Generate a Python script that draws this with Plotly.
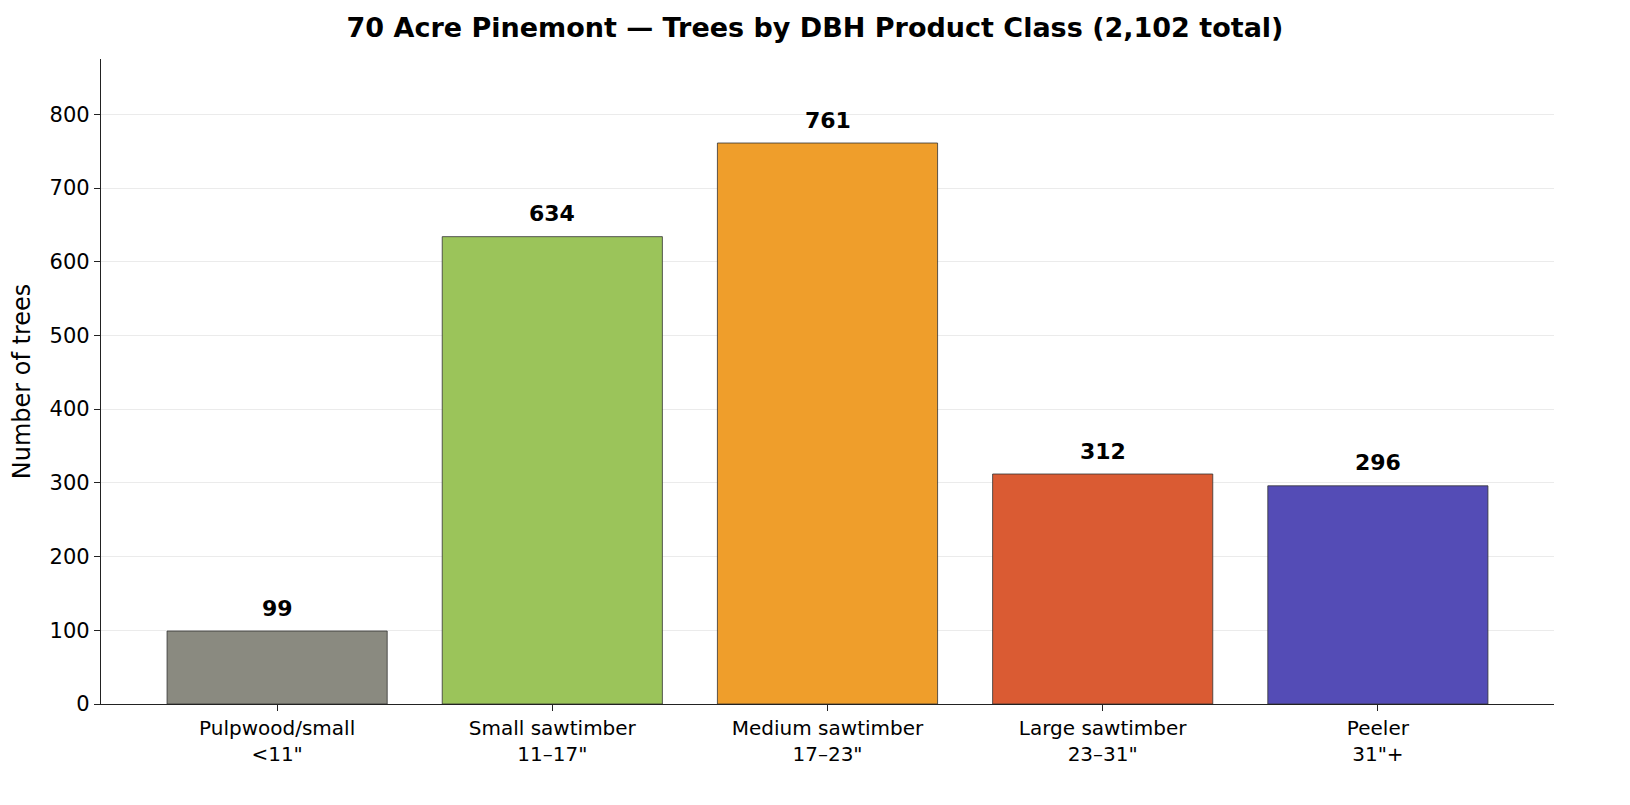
import plotly.graph_objects as go

# product classes and tree counts
classes = ["Pulpwood/small<br><11\"", "Small sawtimber<br>11–17\"", "Medium sawtimber<br>17–23\"",
           "Large sawtimber<br>23–31\"", "Peeler<br>31\"+"]
counts = [99, 634, 761, 312, 296]
colors = ["#8a8a80", "#9bc45a", "#ef9e2b", "#da5b33", "#544cb6"]

x_pos = list(range(len(classes)))

fig = go.Figure()
fig.add_trace(go.Bar(x=x_pos, y=counts, width=0.8, marker_color=colors,
                     marker_line_color="#333333", marker_line_width=0.8,
                     showlegend=False))

# value labels above bars
for xi, v in zip(x_pos, counts):
    fig.add_annotation(x=xi, y=v, text="<b>%d</b>" % v, showarrow=False,
                       yanchor="middle", yshift=23,
                       font=dict(size=22, color="black", family="DejaVu Sans"))

fig.update_layout(
    width=1630, height=805,
    paper_bgcolor="white", plot_bgcolor="white",
    margin=dict(l=101, r=76, t=59, b=101),
    font=dict(family="DejaVu Sans", color="black"),
    title=dict(text="<b>70 Acre Pinemont — Trees by DBH Product Class (2,102 total)</b>",
               x=0.5, xanchor="center", y=0.966, yanchor="middle",
               font=dict(size=27, color="black")),
    xaxis=dict(tickmode="array", tickvals=x_pos, ticktext=classes,
               range=[-0.64, 4.64], showline=True, linecolor="#222222", linewidth=1.2,
               ticks="outside", ticklen=6, tickcolor="#222222",
               tickfont=dict(size=20), showgrid=False, zeroline=False),
    yaxis=dict(range=[0, 875], tickmode="linear", dtick=100, showline=True,
               linecolor="#222222", linewidth=1.2, ticks="outside", ticklen=6,
               tickcolor="#222222", tickfont=dict(size=21),
               showgrid=True, gridcolor="#ebebeb", gridwidth=1, zeroline=False,
               title=dict(text="Number of trees", font=dict(size=24), standoff=12)),
    bargap=0.2,
)

fig.write_html("out.html", config={"displayModeBar": False},
               post_script="document.body.style.margin='0';")
